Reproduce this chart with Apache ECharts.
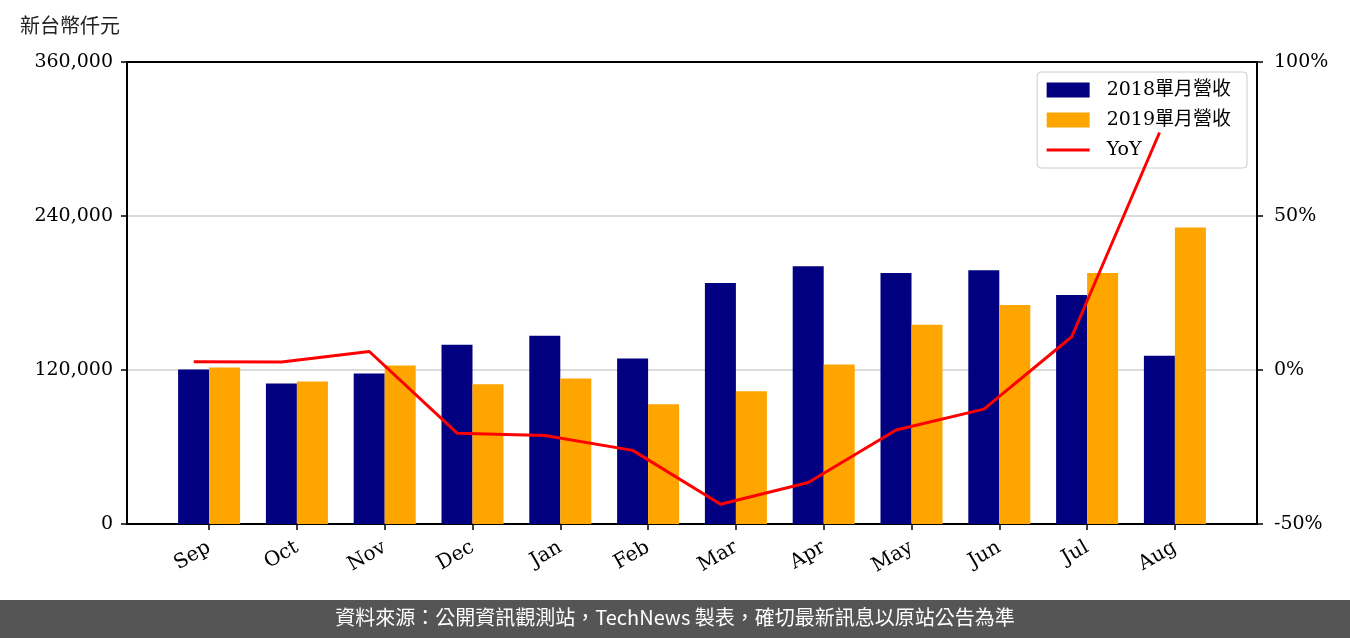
<!DOCTYPE html>
<html>
<head>
<meta charset="utf-8">
<script src="https://cdn.jsdelivr.net/npm/echarts@6/dist/echarts.min.js"></script>
<style>html,body{margin:0;padding:0;background:#fff}#c{width:1350px;height:638px}</style>
</head>
<body>
<div id="c"></div>
<script>
const months = ['Sep','Oct','Nov','Dec','Jan','Feb','Mar','Apr','May','Jun','Jul','Aug'];
const rev2018 = [120400,109500,117300,139700,146700,128900,187700,200900,195500,197800,178500,131200];
const rev2019 = [121900,111100,123500,108800,113400,93300,103400,124300,155200,170700,195500,231100];
const yoy = [2.7,2.6,6.0,-20.5,-21.3,-26.1,-43.6,-36.5,-19.5,-12.7,10.8,77.1];
const leftTicks = [0,120000,240000,360000];
const rightTicks = [-50,0,50,100];

const serif = '"DejaVu Serif", "Noto Sans CJK TC", serif';
const barW = 0.35; // bar width in category units
const idx = months.map((m,i)=>i);

const chart = echarts.init(document.getElementById('c'), null, {renderer:'canvas'});
chart.setOption({
  animation:false,
  backgroundColor:'#fff',
  grid:{left:127,right:93,top:62,bottom:114},
  legend:{
    orient:'vertical', right:103, top:72,
    padding:[8,16,8,8], itemGap:10, itemWidth:43, itemHeight:15,
    backgroundColor:'rgba(255,255,255,0.8)', borderColor:'#cccccc', borderWidth:1, borderRadius:4,
    textStyle:{fontFamily:serif, fontSize:19, color:'#000', lineHeight:20, padding:[0,0,0,12]},
    data:[{name:'2018單月營收',icon:'rect'},{name:'2019單月營收',icon:'rect'},
          {name:'YoY',itemStyle:{opacity:0},lineStyle:{width:3,color:'#FF0000'}}]
  },
  xAxis:[{
    type:'value', min:-0.935, max:11.935,
    splitLine:{show:false},
    axisLine:{show:true,onZero:false,lineStyle:{color:'#000',width:2}},
    axisTick:{show:true,customValues:idx,length:6,lineStyle:{color:'#000',width:1.5}},
    axisLabel:{customValues:idx,formatter:v=>months[Math.round(v)],rotate:30,margin:22,
      fontFamily:serif,fontSize:20,color:'#000'}
  },{
    type:'value', position:'top', min:-0.935, max:11.935,
    splitLine:{show:false},
    axisLine:{show:true,onZero:false,lineStyle:{color:'#000',width:2}},
    axisTick:{show:false}, axisLabel:{show:false}
  }],
  yAxis:[
    {type:'value',min:leftTicks[0],max:leftTicks[leftTicks.length-1],interval:leftTicks[1]-leftTicks[0],
     axisLine:{show:true,onZero:false,lineStyle:{color:'#000',width:2}},
     axisTick:{show:true,length:6,lineStyle:{color:'#000',width:1.5}},
     axisLabel:{formatter:v=>v.toLocaleString('en-US'),fontFamily:serif,fontSize:19,color:'#000',margin:14},
     splitLine:{show:true,lineStyle:{color:'#cfcfcf',width:1.6}}},
    {type:'value',position:'right',min:rightTicks[0],max:rightTicks[rightTicks.length-1],interval:rightTicks[1]-rightTicks[0],
     axisLine:{show:true,onZero:false,lineStyle:{color:'#000',width:2}},
     axisTick:{show:true,length:6,lineStyle:{color:'#000',width:1.5}},
     axisLabel:{formatter:v=>v+'%',fontFamily:serif,fontSize:19,color:'#000',margin:17},
     splitLine:{show:false}}
  ],
  series:[
    {name:'2018單月營收',type:'bar',yAxisIndex:0,barWidth:31,barGap:'0%',
     itemStyle:{color:'#000080'},data:rev2018.map((v,i)=>[i,v])},
    {name:'2019單月營收',type:'bar',yAxisIndex:0,barWidth:31,barGap:'0%',
     itemStyle:{color:'#FFA500'},data:rev2019.map((v,i)=>[i,v])},
    {name:'YoY',type:'line',yAxisIndex:1,symbol:'none',z:5,
     lineStyle:{color:'#FF0000',width:3},itemStyle:{color:'#FF0000'},
     data:yoy.map((v,i)=>[i-barW/2,v])}
  ],
  graphic:[
    {type:'text',left:20,top:15,style:{text:'新台幣仟元',font:'20px "Noto Sans CJK TC", sans-serif',fill:'#222'}},
    {type:'rect',left:0,top:600,shape:{width:1350,height:38},style:{fill:'#555555'}},
    {type:'text',left:'center',top:607,style:{text:'資料來源：公開資訊觀測站，TechNews 製表，確切最新訊息以原站公告為準',
      font:'20px "Noto Sans CJK TC", sans-serif',fill:'#ffffff'}}
  ]
});
</script>
</body>
</html>
